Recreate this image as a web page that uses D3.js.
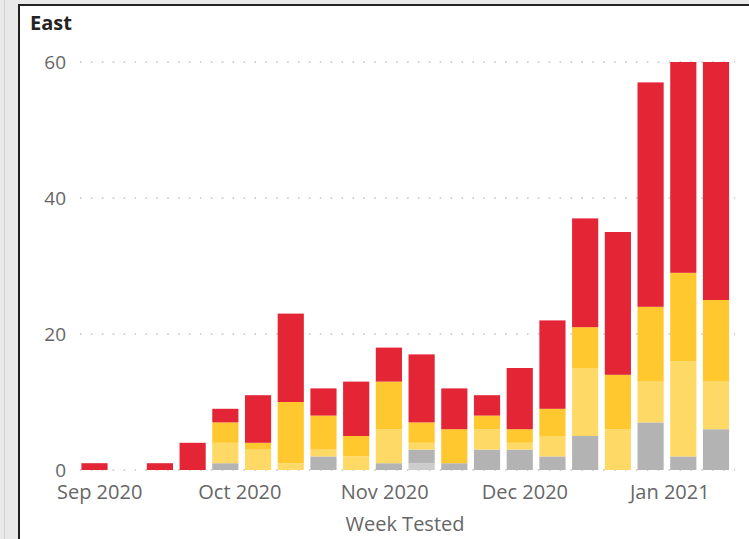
<!DOCTYPE html>
<html>
<head>
<meta charset="utf-8">
<script src="https://cdn.jsdelivr.net/npm/d3@7"></script>
<style>
  html, body { margin: 0; padding: 0; background: #e9e9e9; }
  svg { display: block; }
  text { font-family: "Open Sans", "Noto Sans", sans-serif; }
</style>
</head>
<body>
<script>
// ---- Data ----
const weeks = ["2020-08-31","2020-09-07","2020-09-14","2020-09-21","2020-09-28",
               "2020-10-05","2020-10-12","2020-10-19","2020-10-26","2020-11-02",
               "2020-11-09","2020-11-16","2020-11-23","2020-11-30","2020-12-07",
               "2020-12-14","2020-12-21","2020-12-28","2021-01-04","2021-01-11"];
const lightGray   = [0,0,0,0,0, 0,0,0,0,0, 1,0,0,0,0, 0,0,0,0,0];
const gray        = [0,0,0,0,1, 0,0,2,0,1, 2,1,3,3,2, 5,0,7,2,6];
const lightYellow = [0,0,0,0,3, 3,1,1,2,5, 1,0,3,1,3, 10,6,6,14,7];
const yellow      = [0,0,0,0,3, 1,9,5,3,7, 3,5,2,2,4, 6,8,11,13,12];
const red         = [1,0,1,4,2, 7,13,4,8,5, 10,6,3,9,13, 16,21,33,31,35];
const seriesKeys  = ["lightGray","gray","lightYellow","yellow","red"];
const seriesColors = ["#cccccc","#b3b3b3","#ffd966","#ffc82e","#e32536"];
const yTicks = [0, 20, 40, 60];
const monthTicks = ["2020-09-01","2020-10-01","2020-11-01","2020-12-01","2021-01-01"];
const title = "East";
const xTitle = "Week Tested";

// ---- Build table ----
const parse = d3.utcParse("%Y-%m-%d");
const seriesData = { lightGray, gray, lightYellow, yellow, red };
const table = weeks.map((w, i) => {
  const row = { date: parse(w) };
  seriesKeys.forEach(k => row[k] = seriesData[k][i]);
  return row;
});

const W = 749, H = 539;
const svg = d3.select("body").append("svg").attr("width", W).attr("height", H);

// panel frame
svg.append("rect").attr("x", 0).attr("y", 0).attr("width", W).attr("height", H).attr("fill", "#e9e9e9");
svg.append("line").attr("x1", 4.5).attr("x2", 4.5).attr("y1", 0).attr("y2", H).attr("stroke", "#d2d2d2");
svg.append("rect").attr("x", 19).attr("y", 5).attr("width", W - 19).attr("height", H - 5).attr("fill", "#ffffff");
svg.append("line").attr("x1", 19).attr("x2", 19).attr("y1", 4).attr("y2", H).attr("stroke", "#222").attr("stroke-width", 2);
svg.append("line").attr("x1", 18).attr("x2", W).attr("y1", 5).attr("y2", 5).attr("stroke", "#222").attr("stroke-width", 2);

// title
svg.append("text").attr("x", 30).attr("y", 30).attr("font-size", 20).attr("font-weight", 700)
  .attr("fill", "#252423").text(title);

// scales
const x = d3.scaleUtc().domain([parse("2020-08-27"), parse("2021-01-15")]).range([75.8, 734.7]);
const y = d3.scaleLinear().domain([0, 60]).range([470, 62]);
const step = x(parse("2020-09-07")) - x(parse("2020-08-31"));
const bw = step * 0.8;

// gridlines
svg.append("g").selectAll("line").data(yTicks).join("line")
  .attr("x1", 80).attr("x2", 735)
  .attr("y1", d => y(d)).attr("y2", d => y(d))
  .attr("stroke", "#c4c4c4").attr("stroke-width", 1.6)
  .attr("stroke-dasharray", "1.6 9.3");

// stacked bars
const stack = d3.stack().keys(seriesKeys);
const layers = stack(table);
svg.append("g").selectAll("g").data(layers).join("g")
  .attr("fill", (d, i) => seriesColors[i])
  .selectAll("rect").data(d => d.filter(p => p[1] > p[0])).join("rect")
  .attr("x", d => x(d.data.date) - bw / 2)
  .attr("width", bw)
  .attr("y", d => y(d[1]))
  .attr("height", d => y(d[0]) - y(d[1]));

// y axis
const yAxis = svg.append("g").attr("transform", "translate(66,0)")
  .call(d3.axisLeft(y).tickValues(yTicks).tickSize(0).tickPadding(0).tickFormat(d3.format("d")));
yAxis.select(".domain").remove();
yAxis.selectAll("text").attr("font-size", 19).attr("fill", "#666666")
  .attr("font-family", "'Open Sans', sans-serif");

// x axis
const xAxis = svg.append("g").attr("transform", "translate(0,479)")
  .call(d3.axisBottom(x).tickValues(monthTicks.map(parse)).tickSize(0).tickPadding(0)
    .tickFormat(d3.utcFormat("%b %Y")));
xAxis.select(".domain").remove();
xAxis.selectAll("text").attr("font-size", 20).attr("fill", "#666666")
  .attr("font-family", "'Open Sans', sans-serif").attr("dy", "1em");

// x title
svg.append("text").attr("x", 405).attr("y", 531).attr("text-anchor", "middle")
  .attr("font-size", 20).attr("fill", "#666666").text(xTitle);
</script>
</body>
</html>
